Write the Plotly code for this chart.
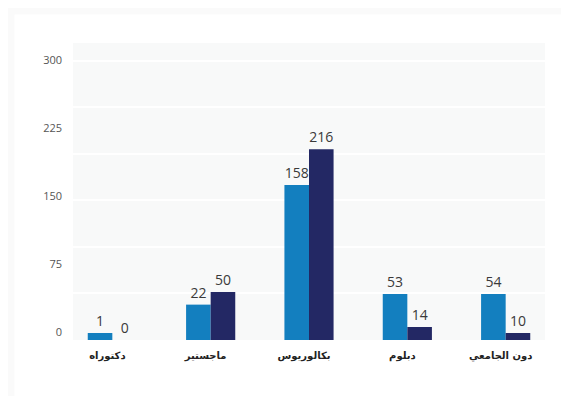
import plotly.graph_objects as go

# Categories (education level)
categories = ["دكتوراه", "ماجستير", "بكالوريوس", "دبلوم", "دون الجامعي"]

# Bar heights as drawn in the picture (read against the gridline scale)
series_a_heights = [7.5, 38, 166.5, 49.5, 49.5]
series_b_heights = [0, 51.5, 205, 14, 7.5]

# Data labels as printed above the bars
series_a_labels = [1, 22, 158, 53, 54]
series_b_labels = [0, 50, 216, 14, 10]

# Y-axis tick labels
y_tick_values = [0, 75, 150, 225, 300]

color_a = "#137fbf"
color_b = "#232864"

fig = go.Figure()
fig.add_trace(go.Bar(
    x=categories, y=series_a_heights, name="A",
    marker=dict(color=color_a, line=dict(width=0)),
    text=[str(v) for v in series_a_labels], textposition="outside",
    textfont=dict(family="Open Sans", size=14, color="#3a3a3a"),
    cliponaxis=False,
))
fig.add_trace(go.Bar(
    x=categories, y=series_b_heights, name="B",
    marker=dict(color=color_b, line=dict(width=0)),
    text=[str(v) for v in series_b_labels], textposition="outside",
    textfont=dict(family="Open Sans", size=14, color="#3a3a3a"),
    cliponaxis=False,
))
# carrier for the labelled axis
fig.add_trace(go.Scatter(x=[], y=[], yaxis="y2", showlegend=False, hoverinfo="skip"))

fig.update_layout(
    width=561, height=388,
    margin=dict(l=65, r=24, t=35, b=56),
    paper_bgcolor="#fafafa",
    plot_bgcolor="rgba(0,0,0,0)",
    showlegend=False,
    barmode="group",
    bargap=0.5,
    bargroupgap=0,
    xaxis=dict(
        type="category",
        range=[-0.4, 4.4],
        showgrid=False, zeroline=False, showline=False,
        ticks="",
        tickfont=dict(family="DejaVu Sans", size=10, color="#222222"),
        tickprefix="<b>", ticksuffix="</b>",
        ticklabelshift=-5,
        ticklabelstandoff=8,
    ),
    yaxis=dict(
        range=[0, 319],
        dtick=50,
        showgrid=True, gridcolor="#ffffff", gridwidth=2,
        zeroline=False, showline=False,
        showticklabels=False, ticks="",
    ),
    yaxis2=dict(
        overlaying="y", side="left", anchor="x",
        range=[-8.8, 318.7],
        tickvals=y_tick_values,
        showgrid=False, zeroline=False, showline=False,
        ticks="",
        tickfont=dict(family="Open Sans", size=11, color="#555555"),
        ticklabelstandoff=10,
    ),
    shapes=[
        dict(type="rect", xref="paper", yref="paper",
             x0=-0.124, x1=1.3, y0=-0.5, y1=1.096,
             fillcolor="#ffffff", line=dict(width=0), layer="below"),
        dict(type="rect", xref="paper", yref="paper",
             x0=0, x1=1, y0=0, y1=1,
             fillcolor="#f8f9f9", line=dict(width=0), layer="below"),
    ],
)

fig.write_html("out.html")
